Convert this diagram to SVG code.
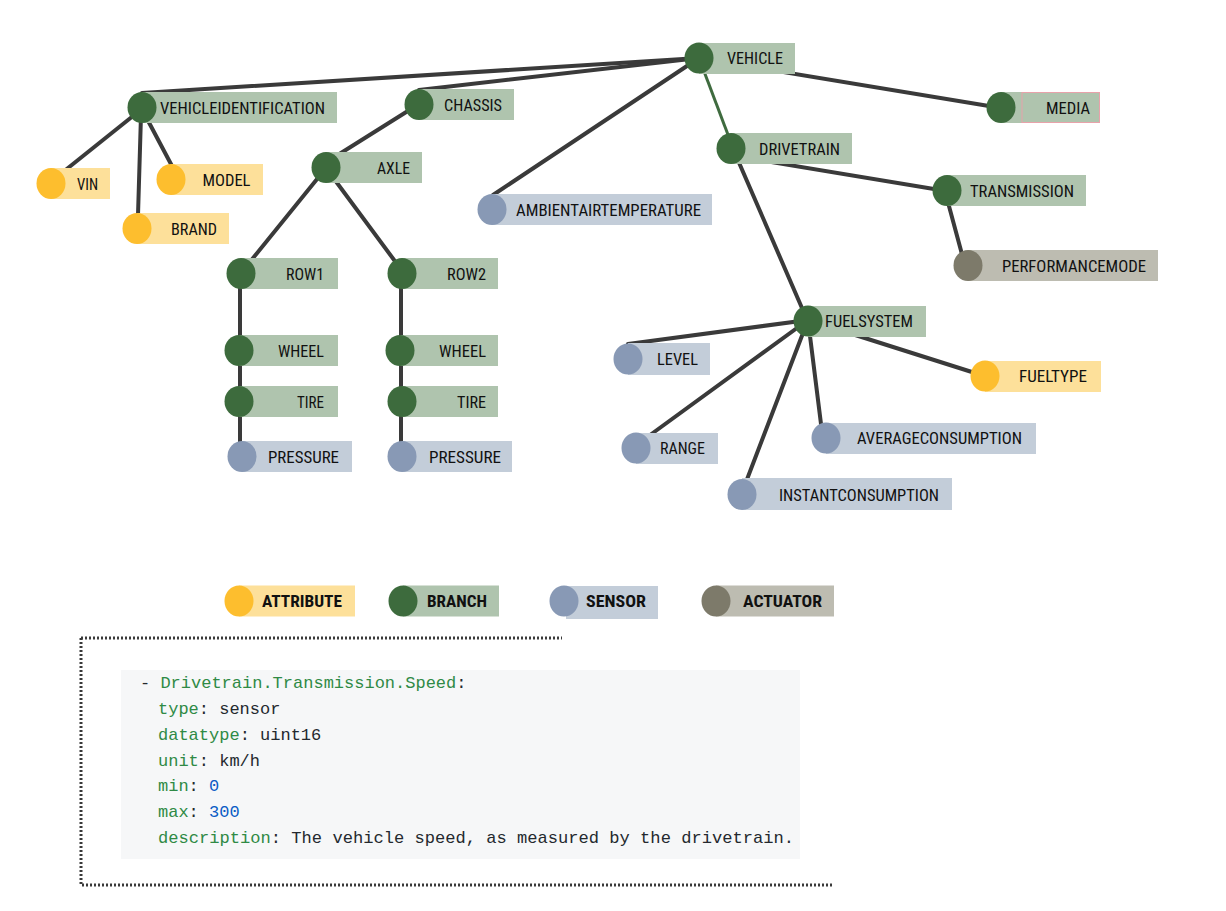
<svg xmlns="http://www.w3.org/2000/svg" width="1226" height="911" viewBox="0 0 1226 911">
<style>
.e{stroke:#3a3a3a;stroke-width:4;fill:none;stroke-linecap:round}
.eg{stroke:#3f6b3f;stroke-width:3;fill:none}
.bc{fill:#3d6b3d}.br{fill:#afc4ae}
.ac{fill:#fdbe2e}.ar{fill:#fde09a}
.sc{fill:#8899b5}.sr{fill:#c3cdd9}
.tc{fill:#7d7a6a}.tr{fill:#bdbcb1}
.t{font-family:"Liberation Sans Narrow","Roboto Condensed","Roboto",sans-serif;font-size:16.5px;fill:#111}
.lg{font-family:"Liberation Sans Narrow","Roboto Condensed","Roboto",sans-serif;font-size:16.5px;font-weight:bold;fill:#111}
.m{font-family:"Liberation Mono","DejaVu Sans Mono",monospace;font-size:17px;fill:#24292e}
.k{fill:#2f8a45}.n{fill:#0b5cc5}
</style>
<rect width="1226" height="911" fill="#fff"/>
<g id="connectors">
<line class="e" x1="699" y1="58" x2="142" y2="93"/>
<line class="e" x1="699" y1="58" x2="419" y2="90"/>
<line class="e" x1="699" y1="58" x2="493" y2="195"/>
<line class="e" x1="699" y1="58" x2="1001" y2="108"/>
<line class="eg" x1="699" y1="58" x2="733" y2="148"/>
<line class="e" x1="735" y1="156" x2="946" y2="191"/>
<line class="e" x1="737" y1="158" x2="805" y2="315"/>
<line class="e" x1="946" y1="195" x2="963" y2="258"/>
<line class="e" x1="138" y1="112" x2="63" y2="172"/>
<line class="e" x1="141" y1="115" x2="138" y2="215"/>
<line class="e" x1="145" y1="115" x2="172" y2="166"/>
<line class="e" x1="419" y1="104" x2="333" y2="158"/>
<line class="e" x1="326" y1="168" x2="245" y2="268"/>
<line class="e" x1="326" y1="168" x2="400" y2="268"/>
<line class="e" x1="240" y1="274" x2="240" y2="452"/>
<line class="e" x1="401" y1="274" x2="401" y2="452"/>
<line class="e" x1="808" y1="320" x2="628" y2="344"/>
<line class="e" x1="808" y1="320" x2="646" y2="438"/>
<line class="e" x1="808" y1="320" x2="746" y2="482"/>
<line class="e" x1="808" y1="320" x2="821" y2="424"/>
<line class="e" x1="808" y1="320" x2="975" y2="373"/>
</g>
<g id="n-vehicle"><rect class="br" x="699" y="43" width="96" height="31"/><ellipse class="bc" cx="699" cy="58" rx="14.5" ry="15.5"/><text class="t" x="727" y="64" textLength="56" lengthAdjust="spacingAndGlyphs">VEHICLE</text></g>
<g id="n-vehicleidentification"><rect class="br" x="142" y="92" width="195" height="31"/><ellipse class="bc" cx="142" cy="107.5" rx="14.5" ry="15.5"/><text class="t" x="160" y="113.5" textLength="165" lengthAdjust="spacingAndGlyphs">VEHICLEIDENTIFICATION</text></g>
<g id="n-chassis"><rect class="br" x="419" y="89" width="95" height="31"/><ellipse class="bc" cx="419" cy="104.5" rx="14.5" ry="15.5"/><text class="t" x="444" y="110.5" textLength="58" lengthAdjust="spacingAndGlyphs">CHASSIS</text></g>
<g id="n-axle"><rect class="br" x="326" y="152" width="96" height="31"/><ellipse class="bc" cx="326" cy="167.5" rx="14.5" ry="15.5"/><text class="t" x="377" y="173.5" textLength="33" lengthAdjust="spacingAndGlyphs">AXLE</text></g>
<g id="n-vin"><rect class="ar" x="51" y="168" width="59" height="31"/><ellipse class="ac" cx="51" cy="183.5" rx="14.5" ry="15.5"/><text class="t" x="77" y="189.5" textLength="21" lengthAdjust="spacingAndGlyphs">VIN</text></g>
<g id="n-model"><rect class="ar" x="171" y="164" width="92" height="31"/><ellipse class="ac" cx="171" cy="179.5" rx="14.5" ry="15.5"/><text class="t" x="202.5" y="185.5" textLength="48" lengthAdjust="spacingAndGlyphs">MODEL</text></g>
<g id="n-brand"><rect class="ar" x="137" y="213" width="92" height="31"/><ellipse class="ac" cx="137" cy="228.5" rx="14.5" ry="15.5"/><text class="t" x="171" y="234.5" textLength="46" lengthAdjust="spacingAndGlyphs">BRAND</text></g>
<g id="n-ambientairtemperature"><rect class="sr" x="492" y="194" width="220" height="31"/><ellipse class="sc" cx="492" cy="209.5" rx="14.5" ry="15.5"/><text class="t" x="516" y="215.5" textLength="185" lengthAdjust="spacingAndGlyphs">AMBIENTAIRTEMPERATURE</text></g>
<g id="n-media"><rect class="br" x="1001" y="92" width="99" height="31"/><rect x="1022" y="92.5" width="77.5" height="30" fill="none" stroke="#e8a2aa" stroke-width="1"/><ellipse class="bc" cx="1001" cy="107.5" rx="14.5" ry="15.5"/><text class="t" x="1046" y="113.5" textLength="44" lengthAdjust="spacingAndGlyphs">MEDIA</text></g>
<g id="n-drivetrain"><rect class="br" x="731" y="133" width="121" height="31"/><ellipse class="bc" cx="731" cy="148.5" rx="14.5" ry="15.5"/><text class="t" x="759" y="154.5" textLength="81" lengthAdjust="spacingAndGlyphs">DRIVETRAIN</text></g>
<g id="n-transmission"><rect class="br" x="947" y="175" width="139" height="31"/><ellipse class="bc" cx="947" cy="190.5" rx="14.5" ry="15.5"/><text class="t" x="970" y="196.5" textLength="104" lengthAdjust="spacingAndGlyphs">TRANSMISSION</text></g>
<g id="n-performancemode"><rect class="tr" x="968" y="250" width="190" height="31"/><ellipse class="tc" cx="968" cy="265.5" rx="14.5" ry="15.5"/><text class="t" x="1002" y="271.5" textLength="144" lengthAdjust="spacingAndGlyphs">PERFORMANCEMODE</text></g>
<g id="n-row1"><rect class="br" x="241" y="258" width="97" height="31"/><ellipse class="bc" cx="241" cy="273.5" rx="14.5" ry="15.5"/><text class="t" x="286" y="279.5" textLength="38" lengthAdjust="spacingAndGlyphs">ROW1</text></g>
<g id="n-row2"><rect class="br" x="402" y="258" width="96" height="31"/><ellipse class="bc" cx="402" cy="273.5" rx="14.5" ry="15.5"/><text class="t" x="447" y="279.5" textLength="39" lengthAdjust="spacingAndGlyphs">ROW2</text></g>
<g id="n-wheel1"><rect class="br" x="239" y="335" width="99" height="31"/><ellipse class="bc" cx="239" cy="350.5" rx="14.5" ry="15.5"/><text class="t" x="278" y="356.5" textLength="46" lengthAdjust="spacingAndGlyphs">WHEEL</text></g>
<g id="n-wheel2"><rect class="br" x="400" y="335" width="98" height="31"/><ellipse class="bc" cx="400" cy="350.5" rx="14.5" ry="15.5"/><text class="t" x="439" y="356.5" textLength="47" lengthAdjust="spacingAndGlyphs">WHEEL</text></g>
<g id="n-tire1"><rect class="br" x="239" y="386" width="99" height="31"/><ellipse class="bc" cx="239" cy="401.5" rx="14.5" ry="15.5"/><text class="t" x="297" y="407.5" textLength="27" lengthAdjust="spacingAndGlyphs">TIRE</text></g>
<g id="n-tire2"><rect class="br" x="402" y="386" width="96" height="31"/><ellipse class="bc" cx="402" cy="401.5" rx="14.5" ry="15.5"/><text class="t" x="457" y="407.5" textLength="29" lengthAdjust="spacingAndGlyphs">TIRE</text></g>
<g id="n-pressure1"><rect class="sr" x="242" y="441" width="110" height="31"/><ellipse class="sc" cx="242" cy="456.5" rx="14.5" ry="15.5"/><text class="t" x="268" y="462.5" textLength="71" lengthAdjust="spacingAndGlyphs">PRESSURE</text></g>
<g id="n-pressure2"><rect class="sr" x="402" y="441" width="110" height="31"/><ellipse class="sc" cx="402" cy="456.5" rx="14.5" ry="15.5"/><text class="t" x="429" y="462.5" textLength="72" lengthAdjust="spacingAndGlyphs">PRESSURE</text></g>
<g id="n-fuelsystem"><rect class="br" x="808" y="306" width="118" height="31"/><ellipse class="bc" cx="808" cy="321" rx="14.5" ry="15.5"/><text class="t" x="825" y="327" textLength="88" lengthAdjust="spacingAndGlyphs">FUELSYSTEM</text></g>
<g id="n-level"><rect class="sr" x="628" y="343" width="82" height="32"/><ellipse class="sc" cx="628" cy="359" rx="14.5" ry="15.5"/><text class="t" x="657" y="365" textLength="41" lengthAdjust="spacingAndGlyphs">LEVEL</text></g>
<g id="n-fueltype"><rect class="ar" x="985" y="361" width="116" height="31"/><ellipse class="ac" cx="985" cy="376" rx="14.5" ry="15.5"/><text class="t" x="1019" y="382" textLength="68" lengthAdjust="spacingAndGlyphs">FUELTYPE</text></g>
<g id="n-range"><rect class="sr" x="636" y="433" width="82" height="31"/><ellipse class="sc" cx="636" cy="448" rx="14.5" ry="15.5"/><text class="t" x="660" y="454" textLength="45" lengthAdjust="spacingAndGlyphs">RANGE</text></g>
<g id="n-averageconsumption"><rect class="sr" x="826" y="423" width="210" height="31"/><ellipse class="sc" cx="826" cy="438" rx="14.5" ry="15.5"/><text class="t" x="857" y="444" textLength="165" lengthAdjust="spacingAndGlyphs">AVERAGECONSUMPTION</text></g>
<g id="n-instantconsumption"><rect class="sr" x="742" y="478" width="210" height="32"/><ellipse class="sc" cx="742" cy="494.5" rx="14.5" ry="15.5"/><text class="t" x="779" y="500.5" textLength="160" lengthAdjust="spacingAndGlyphs">INSTANTCONSUMPTION</text></g>
<g id="legend">
<g id="lg-attribute"><rect class="ar" x="239" y="585.5" width="116" height="31"/><ellipse class="ac" cx="239" cy="601" rx="14.5" ry="15.5"/><text class="lg" x="262" y="607" textLength="80" lengthAdjust="spacingAndGlyphs">ATTRIBUTE</text></g>
<g id="lg-branch"><rect class="br" x="403" y="585.5" width="96" height="31"/><ellipse class="bc" cx="403" cy="601" rx="14.5" ry="15.5"/><text class="lg" x="427" y="607" textLength="60" lengthAdjust="spacingAndGlyphs">BRANCH</text></g>
<g id="lg-sensor"><rect class="sr" x="566" y="586" width="92" height="33"/><ellipse class="sc" cx="564" cy="601" rx="14.5" ry="15.5"/><text class="lg" x="586" y="607" textLength="60" lengthAdjust="spacingAndGlyphs">SENSOR</text></g>
<g id="lg-actuator"><rect class="tr" x="716" y="585.5" width="118" height="31"/><ellipse class="tc" cx="716" cy="601" rx="14.5" ry="15.5"/><text class="lg" x="743" y="607" textLength="79" lengthAdjust="spacingAndGlyphs">ACTUATOR</text></g>
</g>
<g id="code">
<path d="M81 638 H562 M81 638 V885 H832" fill="none" stroke="#3a3a3a" stroke-width="3" stroke-dasharray="2 2"/>
<rect x="121" y="670" width="679" height="189" fill="#f6f7f8"/>
<text class="m" x="140" y="688"><tspan>- </tspan><tspan class="k">Drivetrain.Transmission.Speed</tspan>:</text>
<text class="m" x="158" y="714"><tspan class="k">type</tspan>: sensor</text>
<text class="m" x="158" y="740"><tspan class="k">datatype</tspan>: uint16</text>
<text class="m" x="158" y="766"><tspan class="k">unit</tspan>: km/h</text>
<text class="m" x="158" y="791"><tspan class="k">min</tspan>: <tspan class="n">0</tspan></text>
<text class="m" x="158" y="817"><tspan class="k">max</tspan>: <tspan class="n">300</tspan></text>
<text class="m" x="158" y="843" textLength="636" lengthAdjust="spacingAndGlyphs"><tspan class="k">description</tspan>: The vehicle speed, as measured by the drivetrain.</text>
</g>
</svg>
